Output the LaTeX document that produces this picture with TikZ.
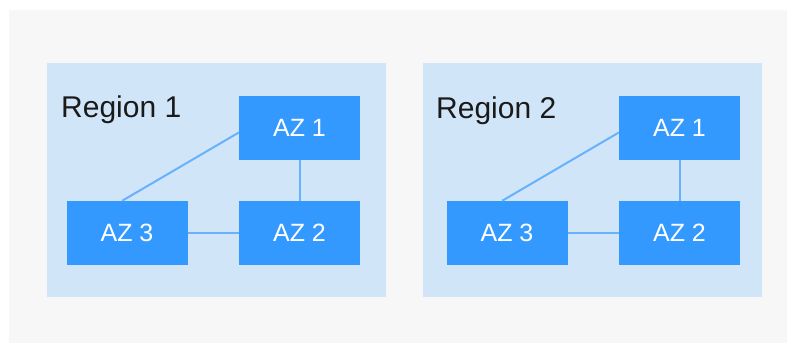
\documentclass[tikz,border=0pt]{standalone}
\usepackage{fontspec}
\setmainfont{Liberation Sans}
\usetikzlibrary{calc}
\definecolor{bggray}{HTML}{F7F7F7}
\definecolor{regfill}{HTML}{D1E5F9}
\definecolor{azfill}{HTML}{3399FF}
\definecolor{linkcol}{HTML}{66B2FF}
\definecolor{labcol}{HTML}{1A1A1A}
\begin{document}
\begin{tikzpicture}[x=1pt,y=-1pt,
  regionbox/.style={fill=regfill,draw=none},
  azbox/.style={fill=azfill,draw=none,minimum width=121pt,minimum height=64pt,inner sep=0pt,
    text=white,font=\fontsize{25}{30}\selectfont},
  reglabel/.style={anchor=base west,inner sep=0pt,text=labcol,font=\fontsize{30}{36}\selectfont},
  link/.style={draw=linkcol,line width=2pt}]
\useasboundingbox (0,0) rectangle (787,343);
\fill[white] (0,0) rectangle (787,343);
\fill[bggray] (9,10) rectangle (787,343);
% Region 1
\fill[regionbox] (47,63) rectangle (386,297);
\node[reglabel] (r1) at (61,117) {Region 1};
\node[azbox] (a1) at (299.5,128) {AZ 1};
\node[azbox] (a2) at (299.5,233) {AZ 2};
\node[azbox] (a3) at (127,233) {AZ 3};
\draw[link] ($(a3.north west)!0.46!(a3.north east)$) -- ($(a1.north west)!0.57!(a1.south west)$);
\draw[link] (a1) -- (a2);
\draw[link] (a3) -- (a2);
% Region 2
\fill[regionbox] (423,63) rectangle (762,297);
\node[reglabel] (r2) at (436,118) {Region 2};
\node[azbox] (b1) at (679.5,128) {AZ 1};
\node[azbox] (b2) at (679.5,233) {AZ 2};
\node[azbox] (b3) at (507,233) {AZ 3};
\draw[link] ($(b3.north west)!0.46!(b3.north east)$) -- ($(b1.north west)!0.57!(b1.south west)$);
\draw[link] (b1) -- (b2);
\draw[link] (b3) -- (b2);
\end{tikzpicture}
\end{document}
